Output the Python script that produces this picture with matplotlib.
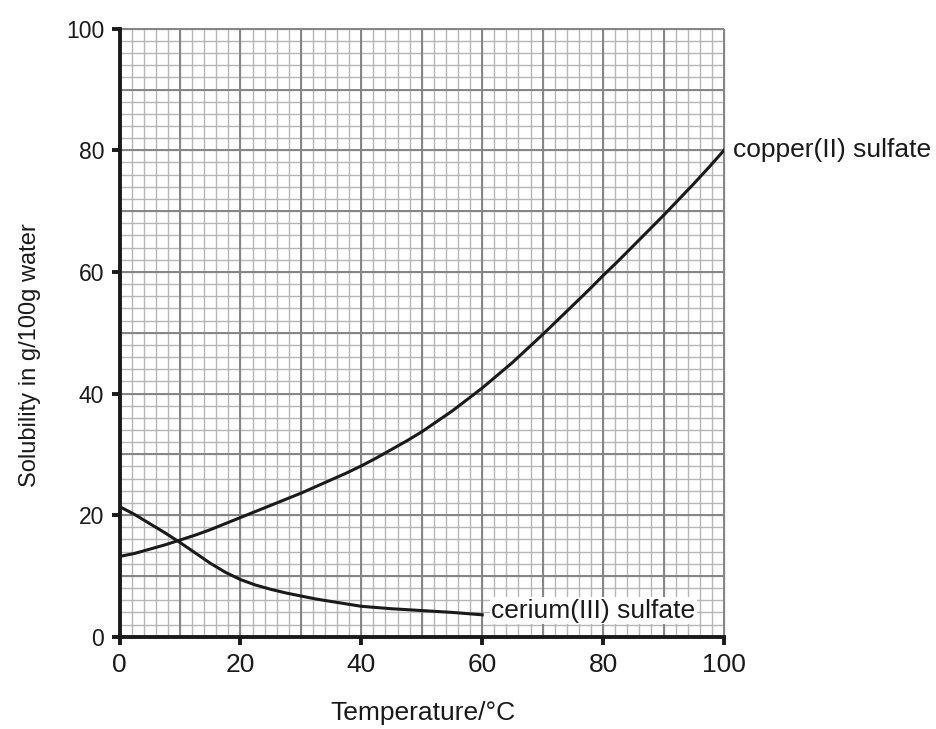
import numpy as np
import matplotlib
matplotlib.use('Agg')
import matplotlib.pyplot as plt

# Values
temp_copper = [0, 2.5, 5, 7.5, 10, 12.5, 15, 17.5, 20, 22.5, 25, 27.5, 30, 32.5, 35, 37.5, 40,
               42.5, 45, 47.5, 50, 52.5, 55, 57.5, 60, 62.5, 65, 67.5, 70, 72.5, 75, 77.5, 80,
               82.5, 85, 87.5, 90, 92.5, 95, 97.5, 100]
sol_copper = [13.2, 13.7, 14.4, 15.1, 15.9, 16.7, 17.6, 18.6, 19.6, 20.6, 21.6, 22.6, 23.6, 24.7,
              25.8, 26.9, 28.1, 29.4, 30.8, 32.2, 33.7, 35.4, 37.1, 39.0, 40.9, 43.0, 45.1, 47.4,
              49.7, 52.1, 54.5, 56.9, 59.4, 61.8, 64.3, 66.8, 69.3, 71.9, 74.5, 77.2, 80.0]

temp_cerium = [0, 2.5, 5, 7.5, 10, 12.5, 15, 17.5, 20, 22.5, 25, 27.5, 30, 32.5, 35, 37.5, 40,
               42.5, 45, 47.5, 50, 55, 60]
sol_cerium = [21.4, 20.1, 18.6, 17.1, 15.5, 13.8, 12.1, 10.6, 9.4, 8.5, 7.8, 7.2, 6.7, 6.2, 5.8,
              5.4, 5.0, 4.8, 4.6, 4.45, 4.3, 4.0, 3.6]

tick_values = [0, 20, 40, 60, 80, 100]

plt.rcParams['font.family'] = ['Liberation Sans', 'DejaVu Sans']

ink = '#1a1a1a'

fig = plt.figure(figsize=(9.36, 7.29), dpi=100)
ax = fig.add_axes([0.1277, 0.1266, 0.6458, 0.834])

ax.set_xlim(0, 100)
ax.set_ylim(0, 100)

# graph paper grid: minor every 2, major every 10
minor = np.arange(0, 101, 2)
major = np.arange(0, 101, 10)
ax.vlines(minor, 0, 100, colors='#b6b6b6', linewidth=1.0, zorder=1, clip_on=False)
ax.hlines(minor, 0, 100, colors='#b6b6b6', linewidth=1.0, zorder=1, clip_on=False)
ax.vlines(major, 0, 100, colors='#858585', linewidth=1.4, zorder=1.5, clip_on=False)
ax.hlines(major, 0, 100, colors='#858585', linewidth=1.4, zorder=1.5, clip_on=False)

# curves
ax.plot(temp_copper, sol_copper, color=ink, linewidth=2.2, zorder=3)
ax.plot(temp_cerium, sol_cerium, color=ink, linewidth=2.2, zorder=3)

# labels on the curves
ax.text(101.5, 80, 'copper(II) sulfate', fontsize=19, va='center', ha='left', color=ink)
ax.text(61.5, 4.3, 'cerium(III) sulfate', fontsize=19, va='center', ha='left', color=ink,
        bbox=dict(facecolor='white', edgecolor='none', pad=1.0), zorder=4)

# axes styling
for side in ['top', 'right']:
    ax.spines[side].set_visible(False)
for side in ['left', 'bottom']:
    ax.spines[side].set_linewidth(2.8)
    ax.spines[side].set_color(ink)
    ax.spines[side].set_zorder(5)

ax.set_xticks(tick_values)
ax.set_yticks(tick_values)
ax.tick_params(axis='both', direction='out', length=6, width=2.8, color=ink, labelcolor=ink)
ax.tick_params(axis='x', labelsize=19, pad=6)
ax.tick_params(axis='y', labelsize=16.5, pad=5)

ax.set_xlabel('Temperature/°C', fontsize=19, color=ink)
ax.set_ylabel('Solubility in g/100g water', fontsize=17, color=ink)
ax.xaxis.set_label_coords(0.502, -0.105)
ax.yaxis.set_label_coords(-0.13, 0.463)

fig.savefig('out.png', dpi=100)
